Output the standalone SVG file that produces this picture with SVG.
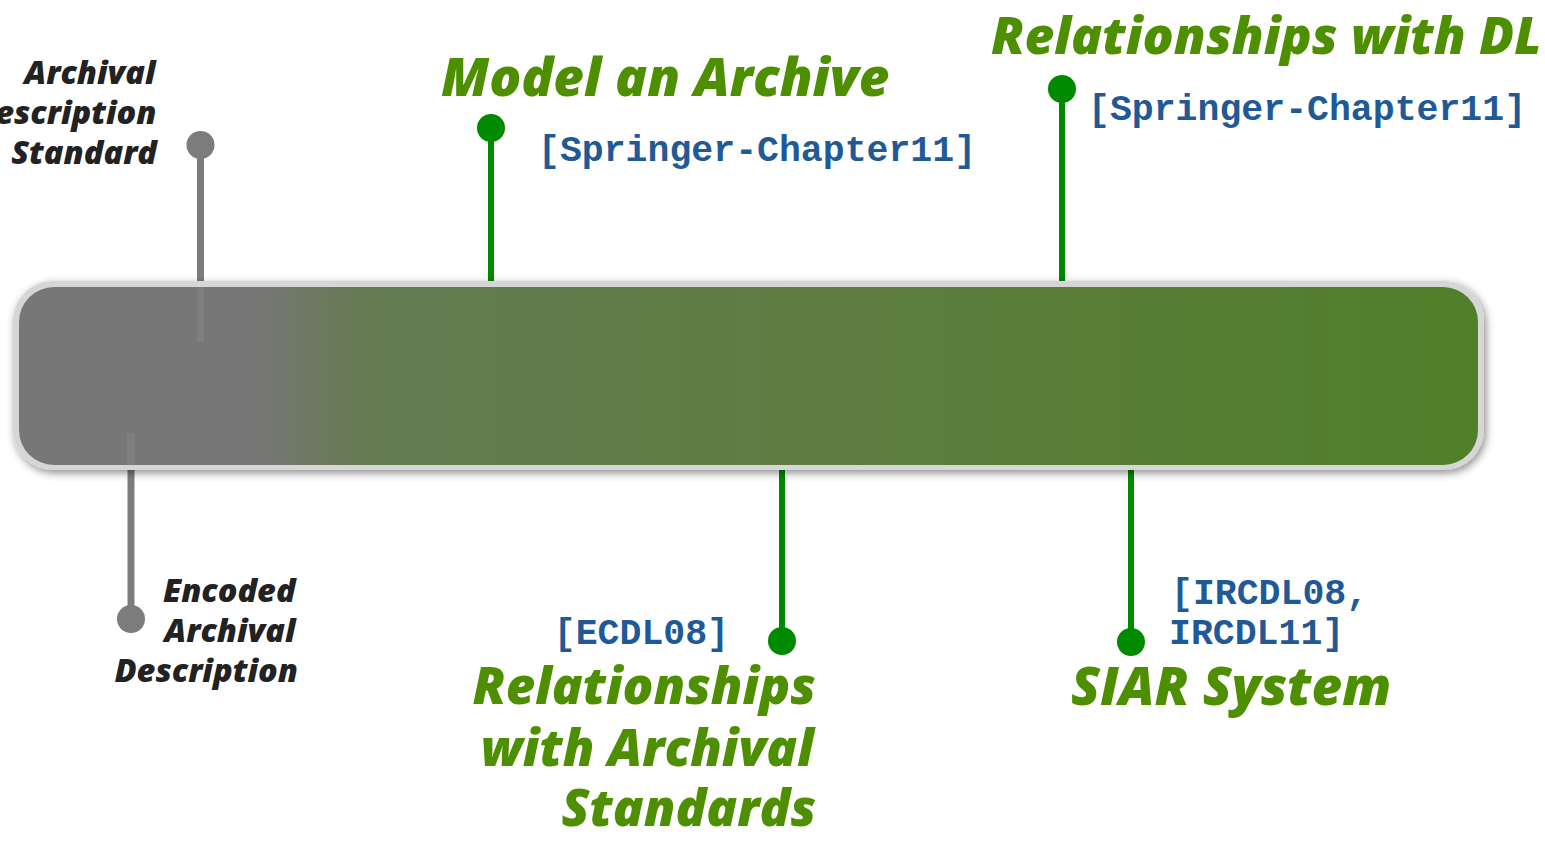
<svg xmlns="http://www.w3.org/2000/svg" width="1545" height="842" viewBox="0 0 1545 842">
  <defs>
    <linearGradient id="barFill" x1="19" y1="0" x2="1478" y2="0" gradientUnits="userSpaceOnUse">
      <stop offset="0" stop-color="#777777"/>
      <stop offset="0.16" stop-color="#777777"/>
      <stop offset="0.235" stop-color="#667b52"/>
      <stop offset="1" stop-color="#517f29"/>
    </linearGradient>
    <filter id="barShadow" x="-5%" y="-20%" width="110%" height="140%">
      <feDropShadow dx="2" dy="3" stdDeviation="4" flood-color="#000" flood-opacity="0.45"/>
    </filter>
  </defs>
  <style>
    .title { font-family: "Open Sans", "Liberation Sans", sans-serif; font-weight: 800; font-style: italic; fill: #4e8f00; font-size: 53px; }
    .side { font-family: "Open Sans", "Liberation Sans", sans-serif; font-weight: 800; font-style: italic; fill: #222222; font-size: 32.5px; }
    .ref { font-family: "Liberation Mono", "Courier New", monospace; font-weight: bold; fill: #1f5a97; font-size: 36.5px; }
    .gline { stroke: #7c7c7c; stroke-width: 7; fill: none; }
    .gdot { fill: #7c7c7c; }
    .vline { stroke: #008a00; stroke-width: 6; fill: none; }
    .vdot { fill: #008a00; }
  </style>

  <!-- connectors: stems from the timeline bar to each pin -->
  <g id="connectors">
    <line class="gline" x1="200.5" y1="145" x2="200.5" y2="284"/>
    <circle class="gdot" cx="200.5" cy="145" r="14"/>
    <line class="gline" x1="131" y1="468" x2="131" y2="619" stroke-width="8"/>
    <circle class="gdot" cx="131" cy="619" r="14"/>
    <line class="vline" x1="491" y1="128" x2="491" y2="284"/>
    <circle class="vdot" cx="491" cy="128" r="14"/>
    <line class="vline" x1="1062" y1="89" x2="1062" y2="284"/>
    <circle class="vdot" cx="1062" cy="89" r="14"/>
    <line class="vline" x1="782" y1="468" x2="782" y2="641"/>
    <circle class="vdot" cx="782" cy="641" r="14"/>
    <line class="vline" x1="1131" y1="468" x2="1131" y2="642"/>
    <circle class="vdot" cx="1131" cy="642" r="14"/>
  </g>

  <!-- timeline bar -->
  <g id="timeline">
    <rect x="13" y="281" width="1471" height="189" rx="40" fill="#d6d6d6" filter="url(#barShadow)"/>
    <rect x="19" y="287" width="1459" height="178" rx="35" fill="url(#barFill)"/>
    <line x1="200.5" y1="287" x2="200.5" y2="342" stroke="#7f7f7f" stroke-width="7"/>
    <line x1="131" y1="433" x2="131" y2="465" stroke="#7f7f7f" stroke-width="8"/>
  </g>

  <g id="archival-description-standard">
    <text class="side" text-anchor="end">
      <tspan x="164" y="84">Archival</tspan>
      <tspan x="165" y="124">Description</tspan>
      <tspan x="157" y="164">Standard</tspan>
    </text>
  </g>

  <g id="encoded-archival-description">
    <text class="side" text-anchor="end">
      <tspan x="304" y="602">Encoded</tspan>
      <tspan x="304" y="642">Archival</tspan>
      <tspan x="298" y="682">Description</tspan>
    </text>
  </g>

  <g id="model-an-archive">
    <text class="title" x="441" y="96">Model an Archive</text>
    <text class="ref" x="538" y="161">[Springer-Chapter11]</text>
  </g>

  <g id="relationships-dl">
    <text class="title" x="991" y="54" style="font-size:51.5px">Relationships with DL</text>
    <text class="ref" x="1088" y="120">[Springer-Chapter11]</text>
  </g>

  <g id="relationships-archival">
    <text class="ref" x="729" y="644" text-anchor="end">[ECDL08]</text>
    <text class="title" text-anchor="end" style="font-size:51px">
      <tspan x="829" y="704">Relationships</tspan>
      <tspan x="827" y="766">with Archival</tspan>
      <tspan x="816" y="826">Standards</tspan>
    </text>
  </g>

  <g id="siar-system">
    <text class="ref">
      <tspan x="1171" y="604">[IRCDL08,</tspan>
      <tspan x="1169" y="644">IRCDL11]</tspan>
    </text>
    <text class="title" x="1071" y="705">SIAR System</text>
  </g>
</svg>
